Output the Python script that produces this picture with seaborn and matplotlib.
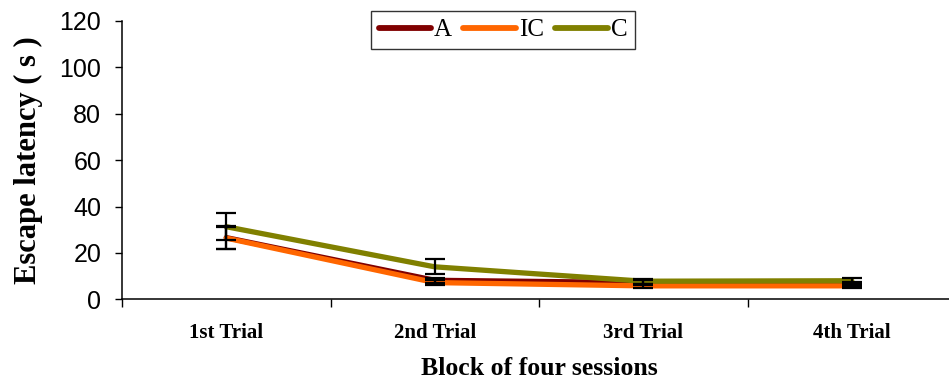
import matplotlib
matplotlib.use("Agg")
import matplotlib.pyplot as plt
from matplotlib.ticker import FixedLocator, NullFormatter
import seaborn as sns
import pandas as pd
import numpy as np

# Escape latency (s) per block, mean and error for each group
blocks = ["1st Trial", "2nd Trial", "3rd Trial", "4th Trial"]
groups = ["A", "IC", "C"]
a_mean = [26.6, 8.2, 7.2, 6.6]
ic_mean = [26.4, 7.2, 5.8, 5.8]
c_mean = [31.3, 14.0, 7.8, 8.0]
a_err = [4.9, 1.0, 1.0, 1.0]
ic_err = [4.9, 1.0, 1.0, 1.0]
c_err = [5.7, 3.2, 1.0, 1.0]
colors = {"A": "#800000", "IC": "#FF6600", "C": "#808000"}

means = {"A": a_mean, "IC": ic_mean, "C": c_mean}
errs = {"A": a_err, "IC": ic_err, "C": c_err}

df = pd.DataFrame({
    "pos": np.tile(np.arange(len(blocks)), len(groups)),
    "latency": a_mean + ic_mean + c_mean,
    "group": np.repeat(groups, len(blocks)),
})

sns.set_style("white")
plt.rcParams.update({"text.color": "black", "axes.labelcolor": "black",
                     "xtick.color": "black", "ytick.color": "black"})

W, H = 949, 383
fig = plt.figure(figsize=(W / 100, H / 100), dpi=100)
left, bottom, top = 122, 299.3, 21
right = 122 + 4 * 208.5
ax = fig.add_axes([left / W, 1 - bottom / H, (right - left) / W, (bottom - top) / H])

sns.lineplot(data=df, x="pos", y="latency", hue="group", hue_order=groups,
             palette=colors, linewidth=3.8, ax=ax, legend=False, zorder=3)

for g in groups:
    ax.errorbar(range(len(blocks)), means[g], yerr=errs[g], fmt="none",
                ecolor="black", elinewidth=1.6, capsize=7, capthick=1.6, zorder=4)

ax.set_xlim(-0.5, len(blocks) - 0.5)
ax.set_ylim(0, 120)
ax.set_yticks(range(0, 121, 20))
ax.set_xticks(range(len(blocks)))
ax.set_xticklabels(blocks, fontfamily="Liberation Serif", fontweight="bold", fontsize=15)
ax.xaxis.set_minor_locator(FixedLocator([-0.5, 0.5, 1.5, 2.5]))
ax.xaxis.set_minor_formatter(NullFormatter())
ax.tick_params(axis="x", which="major", bottom=False, length=0, pad=17)
ax.tick_params(axis="x", which="minor", bottom=True, length=6, width=1,
               color="black", direction="out")
ax.tick_params(axis="y", left=True, length=5, width=1, color="black",
               direction="out", pad=10)
for lbl in ax.get_yticklabels():
    lbl.set_fontfamily("Liberation Sans")
    lbl.set_fontsize(18)

for s in ["top", "right"]:
    ax.spines[s].set_visible(False)
for s in ["left", "bottom"]:
    ax.spines[s].set_color("black")
    ax.spines[s].set_linewidth(1.1)

ax.set_xlabel("Block of four sessions", fontfamily="Liberation Serif",
              fontweight="bold", fontsize=18.5, labelpad=10)
ax.set_ylabel("Escape latency ( s )", fontfamily="Liberation Serif",
              fontweight="bold", fontsize=22, labelpad=12)

handles = [plt.Line2D([], [], color=colors[g], linewidth=4.2, solid_capstyle="round")
           for g in groups]
leg = ax.legend(handles, groups, loc="center", bbox_to_anchor=(503 / W, 1 - 30 / H),
                bbox_transform=fig.transFigure, ncol=3, frameon=True, fancybox=False,
                prop={"family": "Liberation Serif", "size": 18},
                handlelength=2.1, handletextpad=0.12, columnspacing=0.45,
                borderpad=0.3, borderaxespad=0)
leg.get_frame().set_edgecolor("black")
leg.get_frame().set_linewidth(1.0)

fig.savefig("out.png", dpi=100)
